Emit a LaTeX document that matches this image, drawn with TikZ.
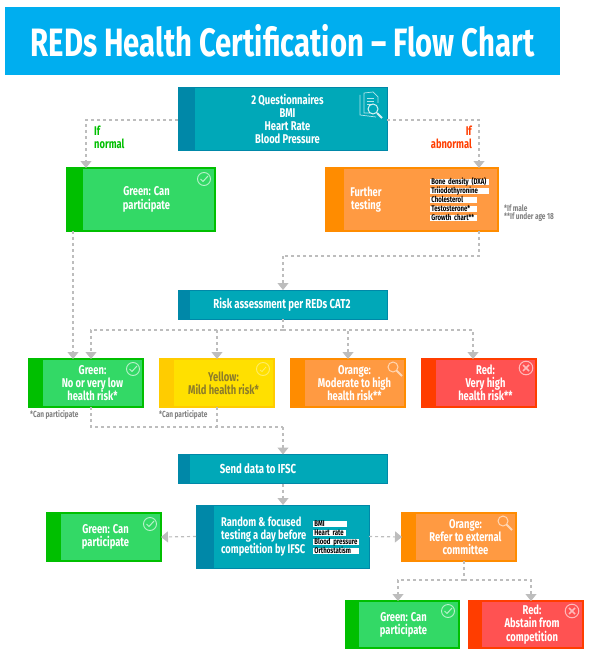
\documentclass[tikz,border=0pt]{standalone}
\usepackage{fontspec}
\setmainfont[FakeStretch=0.74]{Fira Sans}
\usepackage{tikz}
\usetikzlibrary{
  arrows.meta,
  positioning,
  calc
}
\usepackage{xcolor}
\definecolor{titleblue}{HTML}{00AEEF}
\definecolor{tealmain}{HTML}{00A8B8}
\definecolor{tealdark}{HTML}{0088A8}
\definecolor{greenmain}{HTML}{33D966}
\definecolor{greendark}{HTML}{00BF00}
\definecolor{orangemain}{HTML}{FF9A42}
\definecolor{orangedark}{HTML}{FF8C00}
\definecolor{yellowmain}{HTML}{FFE000}
\definecolor{yellowdark}{HTML}{FFCC00}
\definecolor{redmain}{HTML}{FF5252}
\definecolor{reddark}{HTML}{FF3D00}
\definecolor{linegray}{HTML}{BDBDBD}
\definecolor{notegray}{HTML}{808080}
\definecolor{olivetext}{HTML}{8C7C2A}
\tikzset{
  stage/.style={
    rectangle, draw=#1dark, fill=#1main, line width=1.6pt, outer sep=0pt,
    font=\fontsize{12.7}{13.2}\selectfont\bfseries, text=white, align=center
  },
  stage/.default=tealmain,
  flow/.style={draw=linegray, line width=1.2pt, dash pattern=on 3pt off 3pt},
  arrow/.style={flow, -{Triangle[length=7pt, width=11pt, fill=linegray]}},
  tag/.style={fill=white, text=black, anchor=west, inner sep=0pt, outer sep=0pt, text height=5.6pt, text depth=1.2pt,
    font=\fontsize{8.2}{8}\selectfont\bfseries, align=left},
  note/.style={text=notegray, anchor=west, inner sep=0pt, font=\fontsize{8.8}{9}\selectfont\bfseries, align=left},
  decision/.style={inner sep=0pt, font=\fontsize{12.6}{13.2}\selectfont\bfseries},
  checkicon/.pic={
    \draw[white, opacity=0.65, line width=0.9pt] (0,0) circle (6.5);
    \draw[white, opacity=0.65, line width=1pt] (-3.5,0) -- (-1,2.5) -- (4,-3);
  },
  lensicon/.pic={
    \draw[white, opacity=0.6, line width=1pt] (-2,-2) circle (5);
    \draw[white, opacity=0.6, line width=2pt] (1.8,1.8) -- (7,7);
  },
  crossicon/.pic={
    \draw[white, opacity=0.6, line width=1pt] (0,0) circle (6.8);
    \draw[white, opacity=0.6, line width=1.6pt] (-3,-3) -- (3,3) (-3,3) -- (3,-3);
  },
  ringicon/.pic={
    \draw[white, opacity=0.4, line width=0.9pt] (0,0) circle (6.5);
    \draw[white, opacity=0.4, line width=0.8pt] (-3,1) -- (-1,2.5) -- (3,-2);
  },
  sheeticon/.pic={
    \draw[white, opacity=0.7, line width=0.7pt] (-13,-11) -- (-13,9) -- (3,11) (-9,-13) -- (0,-14) -- (5,-9) -- (5,-3) (-9,-13) -- (-9,7) -- (-3,7);
    \draw[white, opacity=0.7, line width=0.6pt] (-6,-8) -- (1,-8) (-6,-5) -- (1,-5) (-6,-2) -- (-2,-2);
    \draw[white, opacity=0.85, line width=1pt] (0,3) circle (5);
    \draw[white, opacity=0.85, line width=1.8pt] (4,7) -- (9,12);
  },
}
\begin{document}
\begin{tikzpicture}[x=1pt, y=-1pt]
\useasboundingbox (0,0) rectangle (591,658);

% Title
\node[fill=titleblue, text=white, minimum width=555pt, minimum height=68pt, inner sep=0pt,
  font=\fontsize{39.6}{40}\selectfont\bfseries] (title) at (282.5,41) {REDs Health Certification -- Flow Chart};

% Questionnaires and first split
\node[stage=teal, line width=1pt, minimum width=193pt, minimum height=62pt] (screen) at (290.5,119)
  {\hspace*{-6pt}2 Questionnaires\\\hspace*{-6pt}BMI\\\hspace*{-6pt}Heart Rate\\\hspace*{-6pt}Blood Pressure};
\node[stage=green, minimum width=133pt, minimum height=63pt] (cleared) at (148.5,199.5) {\hspace*{-4pt}Green: Can\\\hspace*{-4pt}participate};
\node[stage=orange, minimum width=155pt, minimum height=63pt] (further) at (420.5,199.5) {};
\node[decision, text=white, align=center] (furthertext) at (366,199.5) {Further\\testing};

\node[tag, text width=59pt] (dxa) at (430,182) {\mbox{\,Bone density (DXA)}};
\node[tag, text width=59pt] (t3) at (430,191) {\mbox{\,Triiodothyronine}};
\node[tag, text width=47pt] (chol) at (430,200) {\mbox{\,Cholesterol}};
\node[tag, text width=47pt] (testo) at (430,209) {\mbox{\,Testosterone*}};
\node[tag, text width=47pt] (growth) at (430,218) {\mbox{\,Growth chart**}};
\node[note] (malenote) at (504,208) {*If male};
\node[note] (agenote) at (504,217) {**If under age 18};

\node[decision, text=greendark, align=left, anchor=north west] (ifnormal) at (94,126) {If\\normal};
\node[decision, text=reddark, align=right, anchor=north east] (ifabnormal) at (472,126) {If\\abnormal};

% Risk assessment
\node[stage=teal, line width=1pt, minimum width=198pt, minimum height=29pt] (risk) at (288,304.5) {\hspace*{-12pt}\fontsize{13}{14}\selectfont Risk assessment per REDs CAT2};
\node[stage=green, minimum width=101pt, minimum height=48pt] (riskgreen) at (92.5,383) {Green:\\No or very low\\health risk*};
\node[stage=yellow, text=olivetext, minimum width=101pt, minimum height=48pt] (riskyellow) at (223.5,383) {Yellow:\\Mild health risk*};
\node[stage=orange, minimum width=101pt, minimum height=48pt] (riskorange) at (354.5,383) {Orange:\\Moderate to high\\health risk**};
\node[stage=red, minimum width=101pt, minimum height=48pt] (riskred) at (485.5,383) {Red:\\Very high\\health risk**};
\node[note] (cangreen) at (30,415) {*Can participate};
\node[note] (canyellow) at (159,415) {*Can participate};

% Data and final testing
\node[stage=teal, line width=1pt, minimum width=198pt, minimum height=29pt] (send) at (288,469) {\hspace*{-60pt}\fontsize{13}{14}\selectfont Send data to IFSC};
\node[stage=teal, line width=1pt, minimum width=156pt, minimum height=63pt] (random) at (291,536.5) {};
\node[decision, text=white, align=left, anchor=west] (randomtext) at (221,536.5) {Random \& focused\\testing a day before\\competition by IFSC};
\node[tag, text width=34pt] (bmi) at (313,524) {\mbox{\,BMI}};
\node[tag, text width=33pt] (heart) at (313,533) {\mbox{\,Heart rate}};
\node[tag, text width=46pt] (blood) at (313,542) {\mbox{\,Blood pressure}};
\node[tag, text width=46pt] (ortho) at (313,551) {\mbox{\,Orthostatism}};

\node[stage=green, minimum width=101pt, minimum height=48pt] (lastgreen) at (110.5,537) {\hspace*{-10pt}Green: Can\\\hspace*{-10pt}participate};
\node[stage=orange, minimum width=101pt, minimum height=48pt] (committee) at (465.5,537) {Orange:\\Refer to external\\committee};
\node[stage=green, minimum width=101pt, minimum height=47pt] (endgreen) at (408.5,624.5) {\hspace*{-10pt}Green: Can\\\hspace*{-10pt}participate};
\node[stage=red, minimum width=102pt, minimum height=47pt] (endred) at (532,624.5) {Red:\\Abstain from\\competition};

% Left strips
\foreach \boxname/\stripw/\stripcol in {screen/16/tealdark, risk/11/tealdark, send/11/tealdark, random/17/tealdark}
  \filldraw[\stripcol, line width=1pt] ([xshift=-\stripw pt]\boxname.north west) rectangle (\boxname.south west);
\foreach \boxname/\stripw/\stripcol in {cleared/15/greendark, further/17/orangedark,
    riskgreen/13/greendark, riskyellow/13/yellowdark, riskorange/13/orangedark, riskred/13/reddark,
    lastgreen/13/greendark, committee/13/orangedark, endgreen/12/greendark, endred/12/reddark}
  \filldraw[\stripcol, line width=1.6pt] ([xshift=-\stripw pt]\boxname.north west) rectangle (\boxname.south west);

% Icons
\pic at (373,106) {sheeticon};
\pic at (204,179) {checkicon};
\pic at (133,369) {checkicon};
\pic at (263,369) {ringicon};
\pic at (395,369) {lensicon};
\pic at (526,368) {crossicon};
\pic at (150,524) {checkicon};
\pic at (505,523) {lensicon};
\pic at (448,611) {checkicon};
\pic at (572,611) {crossicon};

% Connectors
\coordinate (leftdrop) at ([xshift=-62.5pt]cleared.north);
\coordinate (rightdrop) at ([xshift=58.5pt]further.north);
\coordinate (riskin) at ([xshift=-5pt]risk.north);
\coordinate (riskout) at ([xshift=-5pt]risk.south);
\coordinate (riskbus) at (283,330);
\coordinate (sendin) at ([xshift=-5pt]send.north);
\coordinate (sendout) at ([xshift=-5pt]send.south);
\coordinate (mergebus) at (283,427);
\coordinate (endbus) at (464,580);

\draw[arrow] ([xshift=-16pt, yshift=-1pt]screen.west) -| (leftdrop);
\draw[arrow] ([yshift=-1pt]screen.east) -| (rightdrop);
\draw[flow] ([xshift=58.5pt]further.south) |- (283,256);
\draw[arrow] (283,256) -- (riskin);
\draw[arrow] ([xshift=-75.5pt]cleared.south) -- ([xshift=-19.5pt]riskgreen.north);

\draw[flow] (riskout) -- (riskbus);
\draw[arrow] (riskbus) -| ([xshift=-1.5pt]riskgreen.north);
\draw[arrow] (riskbus) -| ([xshift=-6.5pt]riskyellow.north);
\draw[arrow] (riskbus) -| ([xshift=-6.5pt]riskorange.north);
\draw[arrow] (riskbus) -| ([xshift=-12.5pt]riskred.north);

\draw[flow] ([xshift=-1.5pt]riskgreen.south) |- (mergebus);
\draw[flow] ([xshift=-6.5pt]riskyellow.south) |- (mergebus);
\draw[arrow] (mergebus) -- (sendin);
\draw[arrow] (sendout) -- ([xshift=-8pt]random.north);

\draw[arrow] ([xshift=-17pt]random.west) -- (lastgreen.east);
\draw[arrow] (random.east) -- ([xshift=-13pt]committee.west);

\draw[flow] ([xshift=-1.5pt]committee.south) -- (endbus);
\draw[arrow] (endbus) -| ([xshift=-10.5pt]endgreen.north);
\draw[arrow] (endbus) -| ([xshift=-1pt]endred.north);

\end{tikzpicture}
\end{document}
